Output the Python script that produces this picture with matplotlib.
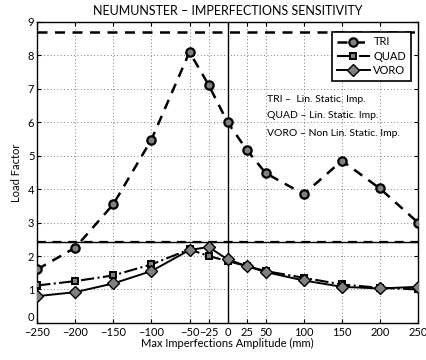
import matplotlib
matplotlib.use("Agg")
import matplotlib.pyplot as plt

plt.rcParams['font.family'] = ['Lato', 'DejaVu Sans']

x = [-250, -200, -150, -100, -50, -25, 0, 25, 50, 100, 150, 200, 250]
tri = [1.6, 2.25, 3.55, 5.48, 8.1, 7.12, 6.0, 5.18, 4.48, 3.85, 4.85, 4.02, 3.0]
quad = [1.12, 1.25, 1.42, 1.75, 2.2, 2.0, 1.85, 1.7, 1.55, 1.35, 1.15, 1.05, 1.0]
voro = [0.8, 0.92, 1.18, 1.55, 2.18, 2.27, 1.9, 1.7, 1.52, 1.27, 1.08, 1.03, 1.08]
tri_ref = 8.7
quad_ref = 2.43
voro_ref = 2.43
xticks = [-250, -200, -150, -100, -50, -25, 0, 25, 50, 100, 150, 200, 250]
xticklabels = ['\u2212250', '\u2212200', '\u2212150', '\u2212100', '\u221250', '\u221225',
               '0', '25', '50', '100', '150', '200', '250']

fig = plt.figure(figsize=(4.27, 3.60), dpi=100)
ax = fig.add_axes([0.087, 0.103, 0.892, 0.836])

gray = '#808080'
ax.plot(x, tri, linestyle=(0, (4, 3)), color='black', lw=1.8, marker='o', ms=6,
        mfc=gray, mec='black', mew=1.6, label='TRI', zorder=3)
ax.plot(x, quad, linestyle='-.', color='black', lw=1.5, marker='s', ms=5,
        mfc=gray, mec='black', mew=1.4, label='QUAD', zorder=3)
ax.plot(x, voro, linestyle='-', color='black', lw=1.4, marker='D', ms=6,
        mfc=gray, mec='black', mew=1.0, label='VORO', zorder=3)

ax.axhline(tri_ref, color='black', lw=1.8, linestyle=(0, (4, 3)), zorder=2)
ax.axhline(quad_ref, color='black', lw=1.6, linestyle=(0, (4, 3)), zorder=2)
ax.axhline(voro_ref, color='black', lw=1.0, linestyle='-', zorder=2)
ax.axvline(0, color='black', lw=1.0, zorder=2)

ax.set_xlim(-250, 250)
ax.set_ylim(0, 9)
ax.set_xticks(xticks)
ax.set_xticklabels(xticklabels)
ax.set_yticks(range(0, 10))
ax.tick_params(direction='in', top=True, right=True, labelsize=8, length=3, width=0.8, pad=2)
ax.tick_params(axis='x', pad=3)
ax.grid(True, linestyle=(0, (1, 3)), color='#555555', lw=0.6)
for s in ax.spines.values():
    s.set_linewidth(1.0)
# lift the y "0" label slightly so it sits above the x "-250" label
ylabs = ax.get_yticklabels()
ylabs[0].set_verticalalignment('bottom')

ax.set_xlabel('Max Imperfections Amplitude (mm)', fontsize=8, labelpad=0)
ax.set_ylabel('Load Factor', fontsize=8, labelpad=4)
ax.set_title('NEUMUNSTER \u2013 IMPERFECTIONS SENSITIVITY', fontsize=9, pad=5)

leg = ax.legend(loc='upper right', fontsize=8, handlelength=3.0, borderpad=0.4,
                labelspacing=0.3, handletextpad=0.3, fancybox=False,
                bbox_to_anchor=(0.995, 0.985))
leg.get_frame().set_edgecolor('black')
leg.get_frame().set_linewidth(1.2)
leg.get_frame().set_alpha(1)

ax.text(0.604, 0.744, 'TRI \u2013  Lin. Static. Imp.', transform=ax.transAxes,
        fontsize=7.5, va='center')
ax.text(0.604, 0.689, 'QUAD \u2013 Lin. Static. Imp.', transform=ax.transAxes,
        fontsize=7.5, va='center')
ax.text(0.604, 0.631, 'VORO \u2013 Non Lin. Static. Imp.', transform=ax.transAxes,
        fontsize=7.5, va='center')

fig.savefig('out.png', dpi=100)
